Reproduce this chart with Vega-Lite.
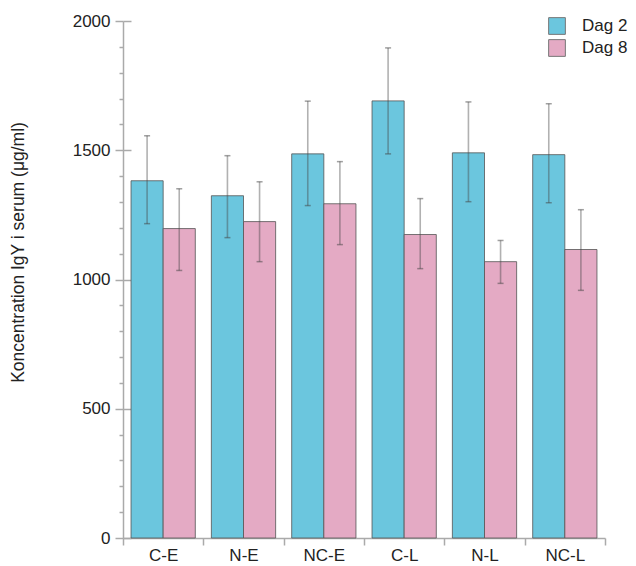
{
  "$schema": "https://vega.github.io/schema/vega-lite/v6.json",
  "autosize": "none",
  "width": 482,
  "height": 517,
  "padding": {"left": 123, "top": 21, "right": 31, "bottom": 28},
  "background": "white",
  "config": {
    "view": {"stroke": null},
    "font": "Liberation Sans",
    "axis": {"labelFont": "Liberation Sans", "titleFont": "Liberation Sans", "labelColor": "#222", "titleColor": "#222", "domainColor": "#aaa", "tickColor": "#aaa", "grid": false, "domainWidth": 1.5, "tickWidth": 1.5}
  },
  "data": {"values": [
    {"group": "C-E", "day": "Dag 2", "mean": 1382, "lo": 1216, "hi": 1556},
    {"group": "C-E", "day": "Dag 8", "mean": 1197, "lo": 1035, "hi": 1351},
    {"group": "N-E", "day": "Dag 2", "mean": 1324, "lo": 1162, "hi": 1479},
    {"group": "N-E", "day": "Dag 8", "mean": 1224, "lo": 1069, "hi": 1378},
    {"group": "NC-E", "day": "Dag 2", "mean": 1486, "lo": 1286, "hi": 1690},
    {"group": "NC-E", "day": "Dag 8", "mean": 1293, "lo": 1135, "hi": 1456},
    {"group": "C-L", "day": "Dag 2", "mean": 1691, "lo": 1486, "hi": 1896},
    {"group": "C-L", "day": "Dag 8", "mean": 1174, "lo": 1042, "hi": 1313},
    {"group": "N-L", "day": "Dag 2", "mean": 1490, "lo": 1301, "hi": 1687},
    {"group": "N-L", "day": "Dag 8", "mean": 1069, "lo": 985, "hi": 1151},
    {"group": "NC-L", "day": "Dag 2", "mean": 1483, "lo": 1297, "hi": 1680},
    {"group": "NC-L", "day": "Dag 8", "mean": 1116, "lo": 958, "hi": 1270}
  ]},
  "encoding": {
    "x": {"field": "group", "type": "nominal", "sort": ["C-E", "N-E", "NC-E", "C-L", "N-L", "NC-L"],
      "scale": {"paddingInner": 0, "paddingOuter": 0},
      "axis": {"title": null, "labelAngle": 0, "labelFontSize": 17, "tickBand": "extent", "tickSize": 7, "labelPadding": 2}},
    "xOffset": {"field": "day", "type": "nominal", "sort": ["Dag 2", "Dag 8"], "scale": {"paddingInner": 0, "paddingOuter": 0.25}}
  },
  "layer": [
    {
      "mark": {"type": "bar", "stroke": "#555", "strokeOpacity": 0.8, "strokeWidth": 1},
      "encoding": {
        "y": {"field": "mean", "type": "quantitative", "scale": {"domain": [0, 2000], "nice": false},
          "axis": {"title": "Koncentration IgY i serum (μg/ml)", "format": "d", "titleFontSize": 17.5, "titleFontWeight": "normal", "titleX": -105, "titleY": 231, "titleBaseline": "middle", "titleAlign": "center", "titleAngle": -90, "values": [0, 500, 1000, 1500, 2000], "labelFontSize": 17, "tickSize": 8, "labelPadding": 5, "orient": "left"}},
        "color": {"field": "day", "type": "nominal", "sort": ["Dag 2", "Dag 8"],
          "scale": {"domain": ["Dag 2", "Dag 8"], "range": ["#6bc6de", "#e4aac4"]},
          "legend": {"title": null, "orient": "none", "legendX": 425, "legendY": -4, "symbolType": "square", "symbolSize": 280, "symbolStrokeColor": "#777", "symbolStrokeWidth": 1, "rowPadding": 0, "labelFontSize": 17, "labelColor": "#222", "labelOffset": 16, "symbolOpacity": 1}}
      }
    },
    {
      "mark": {"type": "rule", "color": "#444", "opacity": 0.42, "strokeWidth": 1.6},
      "encoding": {
        "y": {"field": "lo", "type": "quantitative", "axis": {"title": null, "orient": "left", "values": [100,200,300,400,600,700,800,900,1100,1200,1300,1400,1600,1700,1800,1900], "labels": false, "domain": false, "tickSize": 4}},
        "y2": {"field": "hi"}
      }
    },
    {
      "mark": {"type": "tick", "color": "#444", "opacity": 0.5, "size": 6, "thickness": 1.5},
      "encoding": {
        "y": {"field": "lo", "type": "quantitative", "axis": {"title": null, "orient": "left", "values": [0, 500, 1000, 1500, 2000], "labels": false, "domain": false, "tickSize": -8}}
      }
    },
    {
      "mark": {"type": "tick", "color": "#444", "opacity": 0.5, "size": 6, "thickness": 1.5},
      "encoding": {
        "y": {"field": "hi", "type": "quantitative", "axis": null}
      }
    }
  ],
  "resolve": {"axis": {"y": "independent"}}
}
